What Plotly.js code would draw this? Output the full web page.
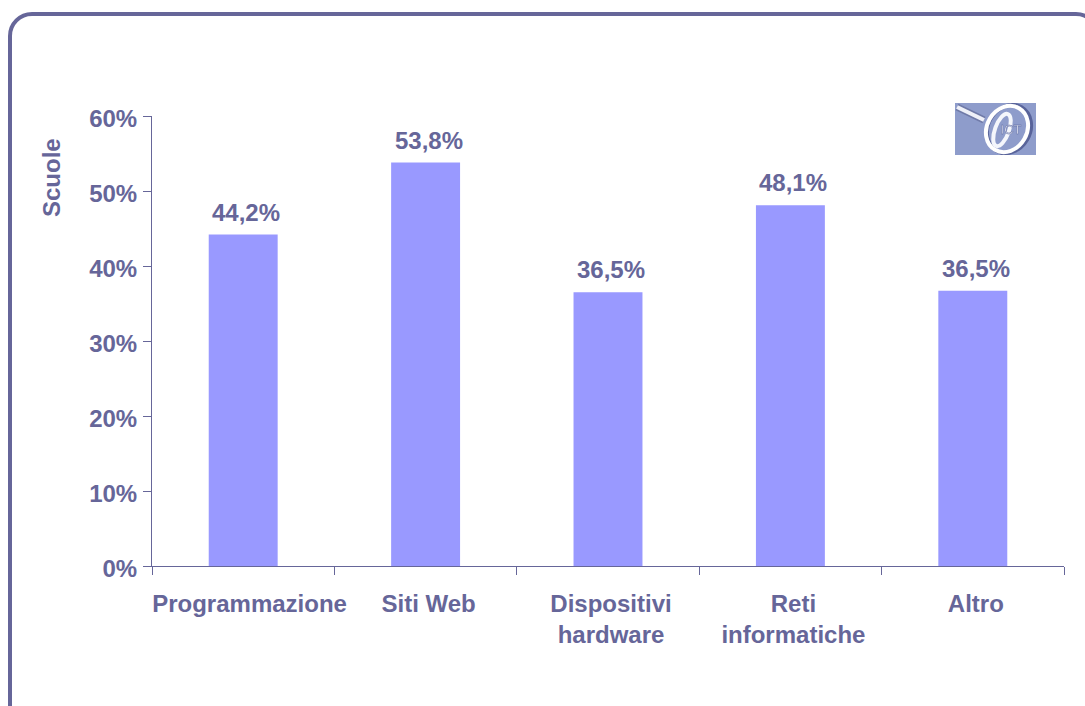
<!DOCTYPE html>
<html>
<head>
<meta charset="utf-8">
<script src="https://cdn.plot.ly/plotly-3.0.1.min.js"></script>
<style>
html,body{margin:0;padding:0;background:#fff;overflow:hidden;width:1085px;height:706px}
#frame{position:absolute;left:8px;top:12px;width:1092px;height:720px;border:4px solid #666699;border-radius:24px;box-sizing:border-box}
#chart{position:absolute;left:0;top:0;width:1085px;height:706px}
</style>
</head>
<body>
<div id="frame"></div>
<div id="chart"></div>
<script>
const categories = ["Programmazione", "Siti Web", "Dispositivi hardware", "Reti informatiche", "Altro"];
const tickLabels = ["\u00a0Programmazione", "Siti Web", "Dispositivi<br>hardware", "Reti<br>informatiche", "Altro"];
const barValues = [44.2, 53.8, 36.5, 48.1, 36.7];
const barLabels = ["44,2%", "53,8%", "36,5%", "48,1%", "36,5%"];
const yTicks = [0, 10, 20, 30, 40, 50, 60];
const yTickLabels = ["0%", "10%", "20%", "30%", "40%", "50%", "60%"];

const ink = "#666699";
const font = {family: '"Liberation Sans", Arial, sans-serif', size: 24, color: ink, weight: "bold"};

const logo = '<svg xmlns="http://www.w3.org/2000/svg" width="81" height="52" viewBox="0 0 81 52">' +
  '<defs><filter id="b"><feGaussianBlur stdDeviation="0.7"/></filter></defs>' +
  '<rect width="81" height="52" fill="#8e9ccb"/>' +
  '<g filter="url(#b)">' +
  '<line x1="2" y1="4" x2="29" y2="17" stroke="#6f7aa8" stroke-width="7"/>' +
  '<line x1="2" y1="4" x2="29" y2="17" stroke="#eef0f8" stroke-width="4"/>' +
  '<ellipse cx="54" cy="26" rx="21" ry="25" transform="rotate(30 54 26)" fill="none" stroke="#59649a" stroke-width="4"/>' +
  '<ellipse cx="52" cy="26" rx="20" ry="24" transform="rotate(30 52 26)" fill="none" stroke="#ffffff" stroke-width="4"/>' +
  '<ellipse cx="47" cy="27" rx="7" ry="17" transform="rotate(20 47 27)" fill="none" stroke="#f4f6fc" stroke-width="4"/>' +
  '<text x="56" y="31" font-family="Liberation Sans" font-size="13" fill="#e4e8f6" stroke="#59649a" stroke-width="0.4" text-anchor="middle">ICT</text>' +
  '</g></svg>';

const annotations = categories.map((c, i) => ({
  x: i, y: barValues[i], xref: "x", yref: "y",
  text: barLabels[i], showarrow: false, yanchor: "bottom",
  xshift: 3, yshift: 7, font: font
}));
annotations.push({
  x: (51 - 152) / 912, y: (566 - 178) / 450, xref: "paper", yref: "paper",
  xanchor: "center", yanchor: "middle",
  text: "Scuole", showarrow: false, textangle: -90, font: font
});

Plotly.newPlot("chart", [{
  type: "bar",
  x: categories,
  y: barValues,
  width: 0.378,
  marker: {color: "#9999FF", line: {width: 0}},
  hoverinfo: "skip"
}], {
  width: 1085,
  height: 706,
  margin: {l: 152, r: 21, t: 116, b: 140, pad: 0},
  paper_bgcolor: "rgba(0,0,0,0)",
  plot_bgcolor: "rgba(0,0,0,0)",
  showlegend: false,
  font: font,
  xaxis: {
    type: "category",
    tickvals: categories,
    ticktext: tickLabels,
    tickson: "boundaries",
    ticks: "outside",
    ticklen: 8,
    tickwidth: 1,
    tickcolor: ink,
    showline: true,
    linecolor: ink,
    linewidth: 1,
    showgrid: false,
    zeroline: false,
    tickangle: 0,
    ticklabelshift: 3,
    ticklabelstandoff: 16,
    tickfont: font,
    automargin: false
  },
  yaxis: {
    range: [0, 60],
    tickvals: yTicks,
    ticktext: yTickLabels,
    ticks: "outside",
    ticklen: 8,
    tickwidth: 1,
    tickcolor: ink,
    showline: true,
    linecolor: ink,
    linewidth: 1,
    showgrid: false,
    zeroline: false,
    tickfont: font,
    ticklabelshift: 3,
    ticklabelstandoff: 1,
    automargin: false
  },
  annotations: annotations,
  images: [{
    source: "data:image/svg+xml;charset=utf-8," + encodeURIComponent(logo),
    xref: "paper", yref: "paper",
    x: (955 - 152) / 912, y: (566 - 103) / 450,
    sizex: 81 / 912, sizey: 52 / 450,
    xanchor: "left", yanchor: "top",
    sizing: "stretch", layer: "above"
  }]
}, {staticPlot: true, displayModeBar: false});
</script>
</body>
</html>
